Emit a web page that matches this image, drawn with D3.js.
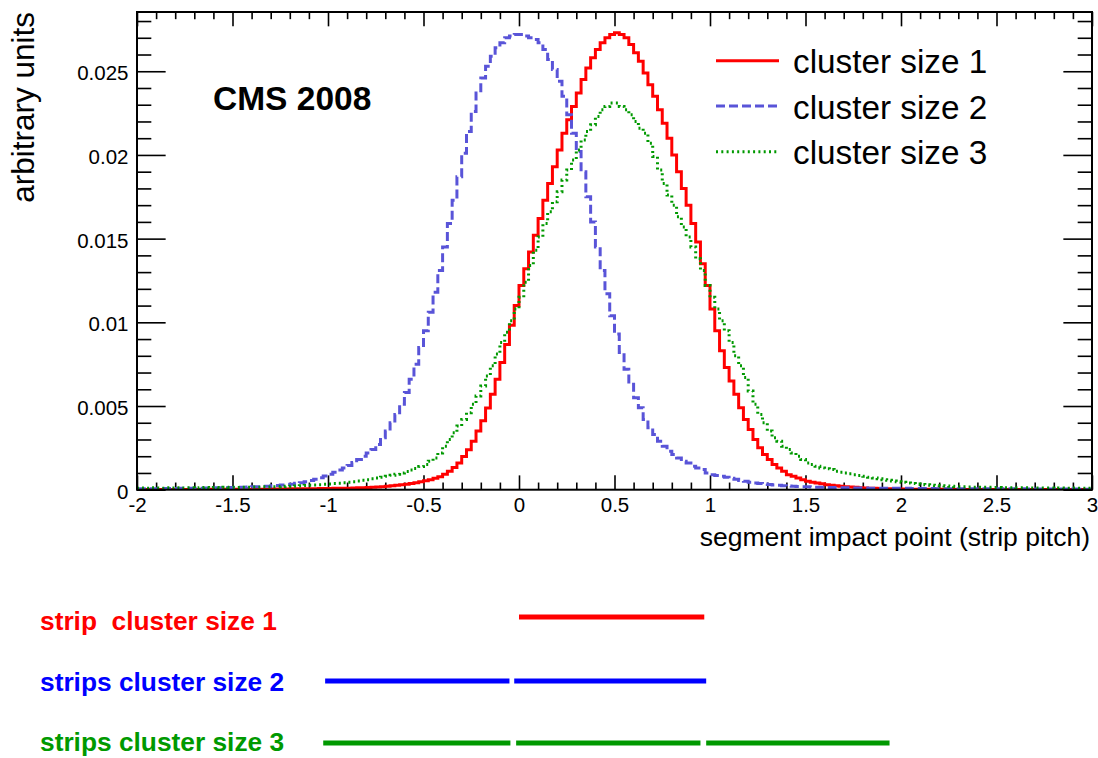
<!DOCTYPE html>
<html><head><meta charset="utf-8">
<script src="https://cdn.jsdelivr.net/npm/d3@7"></script>
<style>
body{margin:0;background:#fff}
svg{display:block;background:#fff}
text{font-family:"Liberation Sans",Arial,Helvetica,sans-serif}
</style>
</head><body>
<svg id="c" width="1098" height="758"></svg>
<script>
// ---------------- data ----------------
const xDomain = [-2, 3];
const nBins = 200;
const yDomain = [0, 0.02854];

const xMajorTicks = [-2, -1.5, -1, -0.5, 0, 0.5, 1, 1.5, 2, 2.5, 3];
const xTickLabels = ["-2", "-1.5", "-1", "-0.5", "0", "0.5", "1", "1.5", "2", "2.5", "3"];
const yMajorTicks = [0, 0.005, 0.01, 0.015, 0.02, 0.025];
const yTickLabels = ["0", "0.005", "0.01", "0.015", "0.02", "0.025"];

const seriesNames = ["cluster size 1", "cluster size 2", "cluster size 3"];
const seriesColors = ["#ff0000", "#5954d8", "#009900"];

// bin contents, 200 bins of 0.025 from -2 to 3
const size1 = [
0.00001,0.00001,0.00001,0.00001,0.00001,0.00001,0.00001,0.00001,0.00001,0.00001,
0.00001,0.00001,0.00001,0.00001,0.00001,0.00002,0.00002,0.00002,0.00002,0.00002,
0.00002,0.00002,0.00002,0.00002,0.00003,0.00003,0.00003,0.00003,0.00004,0.00004,
0.00004,0.00004,0.00005,0.00005,0.00005,0.00006,0.00006,0.00006,0.00007,0.00007,
0.00007,0.00008,0.00008,0.00009,0.00009,0.00010,0.00011,0.00012,0.00013,0.00015,
0.00016,0.00018,0.00020,0.00023,0.00026,0.00029,0.00033,0.00037,0.00042,0.00047,
0.00053,0.00060,0.00068,0.00078,0.00092,0.00110,0.00133,0.00160,0.00198,0.00238,
0.00290,0.00350,0.00412,0.00488,0.00570,0.00660,0.00760,0.00868,0.00982,0.01100,
0.01220,0.01320,0.01420,0.01520,0.01620,0.01730,0.01830,0.01930,0.02030,0.02130,
0.02210,0.02290,0.02370,0.02450,0.02520,0.02580,0.02630,0.02670,0.02700,0.02720,
0.02730,0.02720,0.02700,0.02660,0.02610,0.02560,0.02490,0.02420,0.02350,0.02270,
0.02190,0.02100,0.02000,0.01900,0.01800,0.01700,0.01590,0.01480,0.01350,0.01220,
0.01080,0.00950,0.00830,0.00730,0.00650,0.00570,0.00490,0.00420,0.00360,0.00300,
0.00250,0.00210,0.00180,0.00150,0.00130,0.00110,0.00090,0.00080,0.00070,0.00060,
0.00050,0.00045,0.00040,0.00035,0.00030,0.00027,0.00024,0.00021,0.00018,0.00016,
0.00014,0.00012,0.00010,0.00009,0.00008,0.00007,0.00006,0.00005,0.00005,0.00004,
0.00004,0.00003,0.00003,0.00003,0.00002,0.00002,0.00002,0.00002,0.00002,0.00002,
0.00001,0.00001,0.00001,0.00001,0.00001,0.00001,0.00001,0.00001,0.00001,0.00001,
0.00001,0.00001,0.00001,0.00001,0.00001,0.00001,0.00001,0.00001,0.00001,0.00001,
0.00001,0.00001,0.00001,0.00001,0.00001,0.00001,0.00001,0.00001,0.00001,0.00001
];
const size2 = [
0.00005,0.00006,0.00005,0.00006,0.00006,0.00007,0.00006,0.00007,0.00007,0.00008,
0.00008,0.00008,0.00009,0.00009,0.00010,0.00010,0.00011,0.00011,0.00012,0.00013,
0.00013,0.00014,0.00015,0.00016,0.00017,0.00018,0.00020,0.00021,0.00023,0.00025,
0.00028,0.00030,0.00033,0.00038,0.00042,0.00048,0.00055,0.00063,0.00072,0.00082,
0.00093,0.00105,0.00118,0.00130,0.00145,0.00162,0.00180,0.00200,0.00220,0.00240,
0.00270,0.00310,0.00350,0.00400,0.00450,0.00510,0.00580,0.00660,0.00750,0.00850,
0.00950,0.01060,0.01180,0.01310,0.01450,0.01590,0.01730,0.01870,0.02010,0.02140,
0.02260,0.02370,0.02460,0.02530,0.02590,0.02640,0.02670,0.02700,0.02710,0.02720,
0.02720,0.02710,0.02700,0.02690,0.02670,0.02630,0.02570,0.02510,0.02440,0.02350,
0.02240,0.02130,0.02020,0.01900,0.01750,0.01600,0.01450,0.01310,0.01170,0.01040,
0.00930,0.00820,0.00720,0.00630,0.00550,0.00490,0.00420,0.00370,0.00330,0.00290,
0.00260,0.00230,0.00210,0.00190,0.00170,0.00160,0.00140,0.00130,0.00120,0.00100,
0.00090,0.00085,0.00080,0.00074,0.00068,0.00062,0.00055,0.00050,0.00045,0.00040,
0.00037,0.00034,0.00031,0.00028,0.00026,0.00024,0.00022,0.00020,0.00019,0.00018,
0.00017,0.00016,0.00015,0.00014,0.00013,0.00013,0.00012,0.00012,0.00011,0.00011,
0.00010,0.00010,0.00010,0.00009,0.00009,0.00009,0.00009,0.00008,0.00008,0.00008,
0.00008,0.00008,0.00007,0.00007,0.00007,0.00007,0.00007,0.00006,0.00006,0.00006,
0.00006,0.00006,0.00006,0.00006,0.00005,0.00005,0.00005,0.00005,0.00005,0.00005,
0.00005,0.00005,0.00005,0.00005,0.00004,0.00005,0.00004,0.00004,0.00004,0.00004,
0.00004,0.00004,0.00004,0.00004,0.00004,0.00003,0.00004,0.00003,0.00003,0.00003
];
const size3 = [
0.00008,0.00010,0.00009,0.00011,0.00010,0.00009,0.00011,0.00010,0.00012,0.00010,
0.00011,0.00012,0.00010,0.00012,0.00013,0.00011,0.00013,0.00012,0.00014,0.00013,
0.00014,0.00013,0.00015,0.00015,0.00016,0.00015,0.00017,0.00016,0.00018,0.00018,
0.00019,0.00020,0.00021,0.00022,0.00023,0.00025,0.00026,0.00028,0.00030,0.00032,
0.00034,0.00037,0.00039,0.00042,0.00045,0.00048,0.00052,0.00056,0.00060,0.00065,
0.00070,0.00075,0.00080,0.00086,0.00093,0.00100,0.00108,0.00117,0.00127,0.00138,
0.00150,0.00170,0.00190,0.00220,0.00260,0.00300,0.00340,0.00380,0.00420,0.00460,
0.00510,0.00560,0.00620,0.00680,0.00740,0.00810,0.00880,0.00940,0.01010,0.01080,
0.01150,0.01240,0.01340,0.01430,0.01510,0.01590,0.01660,0.01720,0.01780,0.01850,
0.01910,0.01970,0.02030,0.02090,0.02140,0.02180,0.02230,0.02270,0.02290,0.02310,
0.02310,0.02290,0.02270,0.02240,0.02200,0.02160,0.02130,0.02070,0.01990,0.01910,
0.01830,0.01760,0.01700,0.01630,0.01570,0.01510,0.01450,0.01380,0.01310,0.01220,
0.01150,0.01080,0.01010,0.00950,0.00880,0.00800,0.00740,0.00670,0.00590,0.00510,
0.00450,0.00400,0.00350,0.00310,0.00290,0.00260,0.00240,0.00220,0.00200,0.00180,
0.00160,0.00150,0.00140,0.00130,0.00125,0.00120,0.00110,0.00105,0.00100,0.00095,
0.00090,0.00085,0.00080,0.00075,0.00070,0.00065,0.00060,0.00056,0.00052,0.00048,
0.00044,0.00040,0.00037,0.00034,0.00031,0.00029,0.00027,0.00025,0.00023,0.00022,
0.00020,0.00019,0.00018,0.00017,0.00016,0.00015,0.00015,0.00014,0.00014,0.00013,
0.00013,0.00012,0.00012,0.00012,0.00011,0.00011,0.00011,0.00010,0.00010,0.00010,
0.00010,0.00010,0.00009,0.00010,0.00009,0.00009,0.00010,0.00009,0.00009,0.00008
];

// strip sketch below the plot (positions in strip-pitch units)
const stripRowLabels = ["strip  cluster size 1", "strips cluster size 2", "strips cluster size 3"];
const stripRowColors = ["#ff0000", "#0000ff", "#009900"];
const stripSegments = [
  [[0.0, 0.97]],
  [[-1.015, -0.05], [-0.025, 0.98]],
  [[-1.025, -0.045], [-0.015, 0.95], [0.98, 1.94]]
];

// ---------------- drawing ----------------
const svg = d3.select("#c");
const L = 137, R = 1092, T = 12, B = 489.7;
const x = d3.scaleLinear().domain(xDomain).range([L, R]);
const y = d3.scaleLinear().domain(yDomain).range([B, T]);

svg.append("rect").attr("width", 1098).attr("height", 758).attr("fill", "#fff");

svg.append("defs").append("clipPath").attr("id", "clip")
  .append("rect").attr("x", L).attr("y", T).attr("width", R - L).attr("height", B - T);

const xMinor = d3.range(-20, 31).map(i => i / 10).filter(v => !xMajorTicks.some(m => Math.abs(m - v) < 1e-9));
const yMinor = d3.range(0, 29).map(i => i / 1000).filter(v => !yMajorTicks.some(m => Math.abs(m - v) < 1e-9));

const xTickLen = 0.03 * (B - T), yTickLen = 0.03 * (R - L);

function styleAxis(g) {
  g.select(".domain").remove();
  g.selectAll(".tick line").attr("stroke", "#000").attr("stroke-width", 1.6);
}

// bottom major
svg.append("g").attr("transform", `translate(0,${B})`)
  .call(d3.axisBottom(x).tickValues(xMajorTicks).tickSize(-xTickLen).tickPadding(8)
    .tickFormat((d, i) => xTickLabels[i]))
  .call(styleAxis)
  .call(g => g.selectAll("text").attr("font-size", 20.5).attr("fill", "#000")
    .style("font-family", '"Liberation Sans",Arial,sans-serif'));
// bottom minor
svg.append("g").attr("transform", `translate(0,${B})`)
  .call(d3.axisBottom(x).tickValues(xMinor).tickSize(-xTickLen / 2).tickFormat(""))
  .call(styleAxis);
// top
svg.append("g").attr("transform", `translate(0,${T})`)
  .call(d3.axisTop(x).tickValues(xMajorTicks).tickSize(-xTickLen).tickFormat(""))
  .call(styleAxis);
svg.append("g").attr("transform", `translate(0,${T})`)
  .call(d3.axisTop(x).tickValues(xMinor).tickSize(-xTickLen / 2).tickFormat(""))
  .call(styleAxis);
// left
svg.append("g").attr("transform", `translate(${L},0)`)
  .call(d3.axisLeft(y).tickValues(yMajorTicks).tickSize(-yTickLen).tickPadding(8.5)
    .tickFormat((d, i) => yTickLabels[i]))
  .call(styleAxis)
  .call(g => g.selectAll("text").attr("font-size", 20.5).attr("fill", "#000").attr("dy", "0.42em")
    .style("font-family", '"Liberation Sans",Arial,sans-serif'));
svg.append("g").attr("transform", `translate(${L},0)`)
  .call(d3.axisLeft(y).tickValues(yMinor).tickSize(-yTickLen / 2).tickFormat(""))
  .call(styleAxis);
// right
svg.append("g").attr("transform", `translate(${R},0)`)
  .call(d3.axisRight(y).tickValues(yMajorTicks).tickSize(-yTickLen).tickFormat(""))
  .call(styleAxis);
svg.append("g").attr("transform", `translate(${R},0)`)
  .call(d3.axisRight(y).tickValues(yMinor).tickSize(-yTickLen / 2).tickFormat(""))
  .call(styleAxis);

// histograms
const edges = d3.range(nBins + 1).map(i => xDomain[0] + i * (xDomain[1] - xDomain[0]) / nBins);
function stepPoints(vals) {
  const pts = vals.map((v, i) => [edges[i], v]);
  pts.push([edges[nBins], vals[nBins - 1]]);
  return pts;
}
const line = d3.line().x(d => x(d[0])).y(d => y(d[1])).curve(d3.curveStepAfter);
const dashes = [null, "9,4", "2,3.3"];
const hg = svg.append("g").attr("clip-path", "url(#clip)");
[size1, size2, size3].forEach((vals, i) => {
  hg.append("path").attr("d", line(stepPoints(vals)))
    .attr("fill", "none").attr("stroke", seriesColors[i]).attr("stroke-width", 3)
    .attr("stroke-dasharray", dashes[i]);
});

// frame
svg.append("rect").attr("x", L).attr("y", T).attr("width", R - L).attr("height", B - T)
  .attr("fill", "none").attr("stroke", "#000").attr("stroke-width", 2);

// legend
const legY = [60.7, 106, 151.7];
seriesNames.forEach((n, i) => {
  svg.append("line").attr("x1", 716).attr("x2", 779).attr("y1", legY[i]).attr("y2", legY[i])
    .attr("stroke", seriesColors[i]).attr("stroke-width", 3).attr("stroke-dasharray", dashes[i]);
  svg.append("text").attr("x", 793).attr("y", legY[i] + 12.5).attr("font-size", 33.3).attr("fill", "#000").text(n);
});

// CMS label
svg.append("text").attr("x", 213).attr("y", 110).attr("font-size", 33.5).attr("font-weight", "bold")
  .attr("fill", "#000").text("CMS 2008");

// axis titles
svg.append("text").attr("x", 1090).attr("y", 546).attr("text-anchor", "end").attr("font-size", 26.5)
  .attr("fill", "#000").text("segment impact point (strip pitch)");
svg.append("text").attr("transform", "translate(34,12) rotate(-90)").attr("text-anchor", "end")
  .attr("font-size", 31.5).attr("fill", "#000").text("arbitrary units");

// strip sketch
const rowY = [617, 681, 743];
const textBase = [630, 691, 751];
stripRowLabels.forEach((lab, i) => {
  svg.append("text").attr("x", 40).attr("y", textBase[i]).attr("font-size", 26.3).attr("font-weight", "bold")
    .attr("fill", stripRowColors[i]).style("white-space", "pre").text(lab);
  stripSegments[i].forEach(s => {
    svg.append("line").attr("x1", x(s[0])).attr("x2", x(s[1])).attr("y1", rowY[i]).attr("y2", rowY[i])
      .attr("stroke", stripRowColors[i]).attr("stroke-width", 5);
  });
});
</script>
</body></html>
